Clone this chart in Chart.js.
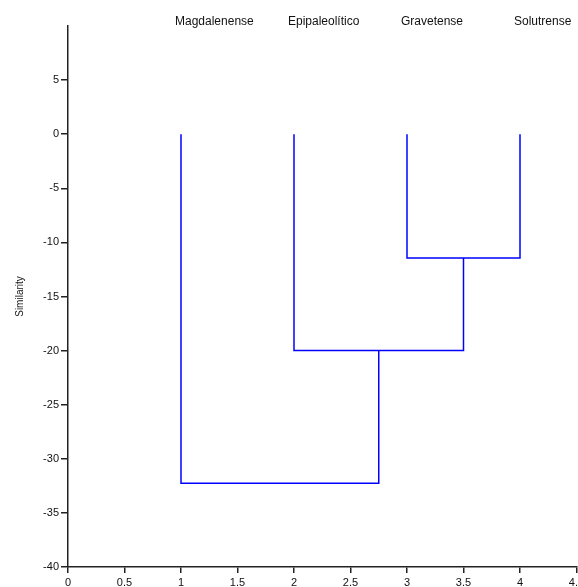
<!DOCTYPE html>
<html><head><meta charset="utf-8">
<script src="https://cdn.jsdelivr.net/npm/chart.js@4/dist/chart.umd.min.js"></script>
<style>html,body{margin:0;padding:0;background:#fff}#wrap{width:578px;height:587px}</style>
</head><body><div id="wrap"><canvas id="c"></canvas></div>
<script>
const leafNames = ['Magdalenense', 'Epipaleolítico', 'Gravetense', 'Solutrense'];
const leafPositions = [1, 2, 3, 4];
// each merge: left branch x, right branch x, where each branch starts, join height
const mergeLeftX = [3, 2, 1];
const mergeRightX = [4, 3.5, 2.75];
const mergeLeftFrom = [0, 0, 0];
const mergeRightFrom = [0, -11.45, -20];
const mergeHeight = [-11.45, -20, -32.25];
const xTickStep = 0.5;
const yTickStep = 5;

const datasets = mergeHeight.map((h, i) => ({
  data: [
    {x: mergeLeftX[i], y: mergeLeftFrom[i]},
    {x: mergeLeftX[i], y: h},
    {x: mergeRightX[i], y: h},
    {x: mergeRightX[i], y: mergeRightFrom[i]}
  ],
  showLine: true,
  borderColor: '#0000ff',
  borderWidth: 1.5,
  pointRadius: 0,
  fill: false,
  tension: 0
}));

const leafLabels = {
  id: 'leafLabels',
  afterDraw(chart) {
    const ctx = chart.ctx;
    const xs = chart.scales.x;
    ctx.save();
    ctx.font = '12px "Liberation Sans", Arial, sans-serif';
    ctx.fillStyle = '#111';
    ctx.textAlign = 'left';
    ctx.textBaseline = 'middle';
    leafNames.forEach((n, i) => {
      ctx.fillText(n, xs.getPixelForValue(leafPositions[i]) - 6, 21.5);
    });
    ctx.restore();
  }
};

const tickFont = {family: '"Liberation Sans", Arial, sans-serif', size: 11};

new Chart(document.getElementById('c'), {
  type: 'scatter',
  data: {datasets},
  plugins: [leafLabels],
  options: {
    responsive: true,
    maintainAspectRatio: false,
    animation: false,
    layout: {padding: {top: 26, right: 1.5, bottom: 0, left: 0}},
    plugins: {legend: {display: false}, tooltip: {enabled: false}},
    scales: {
      x: {
        type: 'linear',
        min: 0, max: 4.5,
        ticks: {stepSize: xTickStep, color: '#111', font: tickFont, padding: 3, maxRotation: 0, autoSkip: false,
          callback: v => String(v)},
        grid: {display: true, drawOnChartArea: false, drawTicks: true, tickLength: 6, color: '#222', lineWidth: 1.5},
        border: {display: true, color: '#222', width: 1.5},
        afterFit: s => { s.height = 20; s.paddingLeft = 0; s.paddingRight = 0; }
      },
      y: {
        type: 'linear',
        min: -40, max: 10,
        ticks: {stepSize: yTickStep, color: '#111', font: tickFont, padding: 2},
        afterBuildTicks: s => { s.ticks = s.ticks.filter(t => t.value < 10); },
        grid: {display: true, drawOnChartArea: false, drawTicks: true, tickLength: 7, color: '#222', lineWidth: 1.5},
        border: {display: true, color: '#222', width: 1.5},
        title: {display: true, text: 'Similarity', color: '#111', font: {family: '"Liberation Sans", Arial, sans-serif', size: 10}, padding: {top: 14, bottom: 0}},
        afterFit: s => { s.width = 68; s.paddingTop = 0; s.paddingBottom = 0; }
      }
    }
  }
});
</script>
</body></html>
